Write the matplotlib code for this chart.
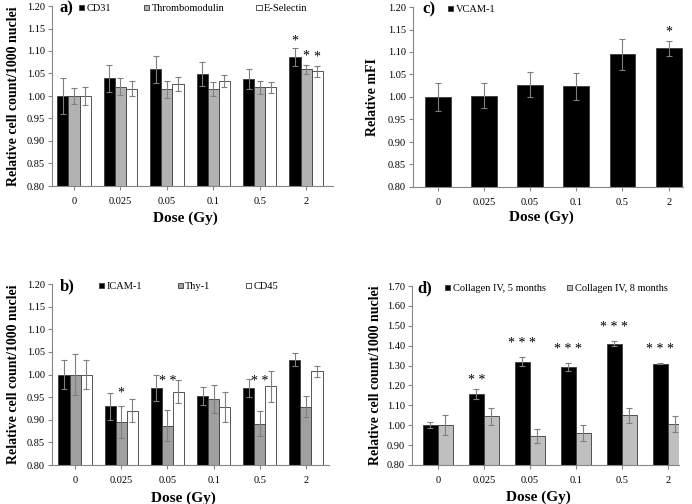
import numpy as np
import matplotlib
matplotlib.use('Agg')
import matplotlib.pyplot as plt

plt.rcParams['font.family'] = ['Liberation Serif', 'DejaVu Serif']

# Dữ liệu
doses = ['0', '0.025', '0.05', '0.1', '0.5', '2']

# a) tế bào nội mô
cd31 = [1.000, 1.039, 1.059, 1.049, 1.038, 1.086]
cd31_err = [0.041, 0.029, 0.029, 0.027, 0.022, 0.020]
thrombo = [1.000, 1.021, 1.015, 1.016, 1.019, 1.059]
thrombo_err = [0.017, 0.018, 0.019, 0.015, 0.015, 0.009]
esel = [1.000, 1.016, 1.027, 1.033, 1.019, 1.055]
esel_err = [0.019, 0.017, 0.016, 0.013, 0.013, 0.012]
stars_a = [('*', 5, 0, 1.130), ('*', 5, 1, 1.096), ('*', 5, 2, 1.095)]

# b)
icam = [1.000, 0.930, 0.970, 0.953, 0.970, 1.033]
icam_err = [0.033, 0.030, 0.029, 0.020, 0.020, 0.015]
thy = [1.000, 0.895, 0.887, 0.945, 0.891, 0.929]
thy_err = [0.046, 0.035, 0.035, 0.031, 0.028, 0.023]
cd45 = [1.000, 0.920, 0.962, 0.928, 0.974, 1.007]
cd45_err = [0.033, 0.026, 0.025, 0.033, 0.034, 0.012]
stars_b = [('*', 1, 1, 0.966), ('* *', 2, 1, 0.992), ('* *', 4, 1, 0.993)]

# c)
vcam = [1.000, 1.003, 1.027, 1.024, 1.095, 1.108]
vcam_err = [0.031, 0.028, 0.028, 0.030, 0.035, 0.016]
stars_c = [('*', 5, 0, 1.153)]

# d)
col5 = [1.000, 1.155, 1.320, 1.294, 1.410, 1.310]
col5_err = [0.015, 0.025, 0.023, 0.020, 0.013, 0.003]
col8 = [1.001, 1.045, 0.947, 0.961, 1.050, 1.006]
col8_err = [0.050, 0.042, 0.036, 0.040, 0.037, 0.040]
stars_d = [('* *', 1, 0, 1.243), ('* * *', 2, 0, 1.427), ('* * *', 3, 0, 1.397),
           ('* * *', 4, 0, 1.510), ('* * *', 5, 0, 1.397)]

GRID = '#868686'
ERR = '#7f7f7f'
EDGE = '#3a3a3a'

fig = plt.figure(figsize=(6.92, 5.04), dpi=100)


def panel(rect, xlim, ylim, yticks, series, width, letter, ylabel, ylab_size,
          leg_x, colspace, stars, label_x, ylab_x, xlab_y):
    ax = fig.add_axes(rect)
    x = np.arange(len(doses))
    n = len(series)
    offsets = (np.arange(n) - (n - 1) / 2) * width
    for (name, vals, errs, color), off in zip(series, offsets):
        ax.bar(x + off, np.array(vals) - ylim[0], width, bottom=ylim[0],
               color=color, edgecolor=EDGE, linewidth=0.6, label=name,
               yerr=errs, error_kw=dict(ecolor=ERR, elinewidth=0.8,
                                        capsize=2.2, capthick=0.8))
    for s, i, k, yv in stars:
        ax.annotate(s, (x[i] + offsets[k], yv), xytext=(0, -5),
                    textcoords='offset points', ha='center', va='baseline',
                    fontsize=10)
    ax.set_xlim(*xlim)
    ax.set_ylim(*ylim)
    ax.set_yticks(yticks)
    ax.set_yticklabels(['%.2f' % t for t in yticks])
    ax.set_xticks(x)
    ax.set_xticklabels(doses)
    for sp in ['top', 'right']:
        ax.spines[sp].set_visible(False)
    for sp in ['left', 'bottom']:
        ax.spines[sp].set_color(GRID)
        ax.spines[sp].set_linewidth(0.8)
    ax.tick_params(axis='both', direction='out', length=3, width=0.8,
                   color=GRID, labelsize=7.5, pad=2)
    ax.tick_params(axis='x', pad=5)
    ax.set_xlabel('Dose (Gy)', fontsize=11, fontweight='bold')
    ax.xaxis.set_label_coords(0.475, xlab_y)
    ax.set_ylabel(ylabel, fontsize=ylab_size, fontweight='bold')
    ax.yaxis.set_label_coords(ylab_x, 0.5)
    ax.text(label_x, 0.985, letter, transform=ax.transAxes, fontsize=12,
            fontweight='bold', ha='left', va='center')
    ax.legend(loc='center left', bbox_to_anchor=(leg_x, 0.985), ncol=n,
              frameon=False, fontsize=7.5, handlelength=0.5, handleheight=0.5,
              handletextpad=0.25, columnspacing=colspace, borderpad=0,
              borderaxespad=0)
    return ax


yt1 = np.round(np.arange(0.80, 1.201, 0.05), 2)
yt2 = np.round(np.arange(0.80, 1.701, 0.10), 2)

panel([52 / 692, 1 - 186 / 504, 281 / 692, 180 / 504], (-0.474, 5.58),
      (0.80, 1.20), yt1,
      [('CD31', cd31, cd31_err, 'black'),
       ('Thrombomodulin', thrombo, thrombo_err, '#b2b2b2'),
       ('E-Selectin', esel, esel_err, 'white')],
      0.24, 'a)', 'Relative cell count/1000 nuclei', 10, 0.096, 3.1, stars_a,
      0.025, -0.114, -0.139)

panel([52 / 692, 1 - 465 / 504, 277 / 692, 181 / 504], (-0.5, 5.5),
      (0.80, 1.20), yt1,
      [('ICAM-1', icam, icam_err, 'black'),
       ('Thy-1', thy, thy_err, '#a0a0a0'),
       ('CD45', cd45, cd45_err, 'white')],
      0.24, 'b)', 'Relative cell count/1000 nuclei', 10, 0.169, 3.4, stars_b,
      0.029, -0.116, -0.144)

panel([413 / 692, 1 - 187 / 504, 270 / 692, 180 / 504], (-0.535, 5.31),
      (0.80, 1.20), yt1,
      [('VCAM-1', vcam, vcam_err, 'black')],
      0.56, 'c)', 'Relative mFI', 10, 0.13, 3.0, stars_c,
      0.033, -0.126, -0.133)

panel([412 / 692, 1 - 465 / 504, 267 / 692, 179 / 504], (-0.56, 5.24),
      (0.80, 1.70), yt2,
      [('Collagen IV, 5 months', col5, col5_err, 'black'),
       ('Collagen IV, 8 months', col8, col8_err, '#bfbfbf')],
      0.326, 'd)', 'Relative cell count/1000 nuclei', 10, 0.124, 2.0, stars_d,
      0.019, -0.112, -0.14)

fig.savefig('out.png', dpi=100)
